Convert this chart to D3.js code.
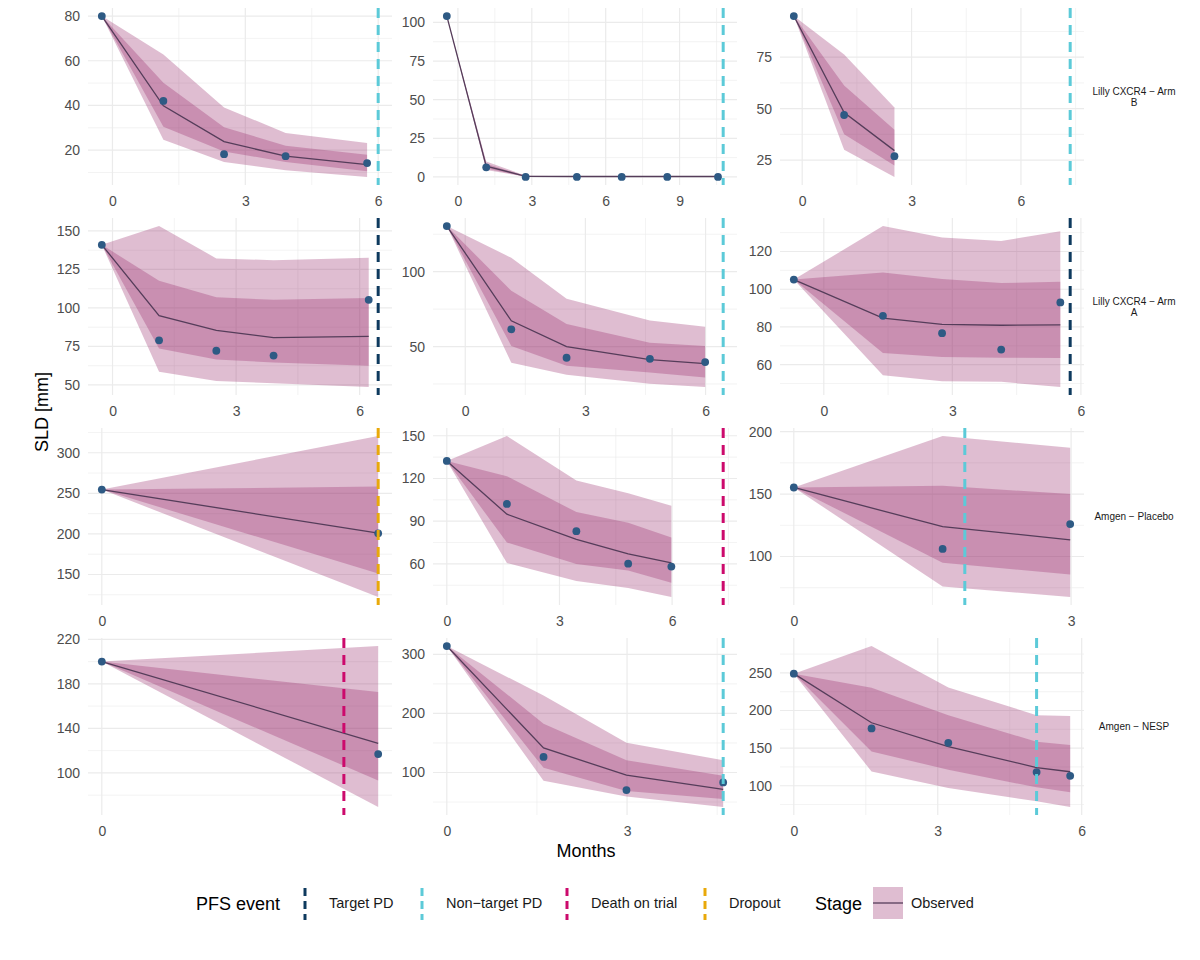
<!DOCTYPE html>
<html>
<head>
<meta charset="utf-8">
<script src="https://cdnjs.cloudflare.com/ajax/libs/d3/7.8.5/d3.min.js"></script>
<style>
body { margin: 0; background: #fff; }
svg text { font-family: "Liberation Sans", Arial, sans-serif; }
</style>
</head>
<body>
<svg id="chart" width="1200" height="960"></svg>
<script>
// Facet rows (strip labels on the right)
var stripLabels = [["Lilly CXCR4 \u2212 Arm", "B"], ["Lilly CXCR4 \u2212 Arm", "A"], ["Amgen \u2212 Placebo"], ["Amgen \u2212 NESP"]];

// One entry per panel, row by row
var times = [
  [-0.24, 1.15, 2.52, 3.91, 5.75],
  [-0.45, 1.15, 2.75, 4.83, 6.65, 8.5, 10.56],
  [-0.23, 1.15, 2.53],
  [-0.26, 1.13, 2.52, 3.91, 6.22],
  [-0.46, 1.15, 2.53, 4.61, 5.99],
  [-0.70, 1.38, 2.76, 4.14, 5.52],
  [0, 1.4],
  [0, 1.6, 3.45, 4.83, 5.98],
  [0, 1.61, 2.99],
  [0, 1.45],
  [0, 1.61, 2.99, 4.6],
  [0, 1.62, 3.22, 5.06, 5.76]
];
var observed = [
  [80, 42, 18.2, 17.3, 14.2],
  [104.1, 6.2, 0, 0, 0, 0, 0],
  [95, 46.9, 26.9],
  [141, 79, 72.2, 69.1, 105.3],
  [130.5, 61.5, 42.5, 41.8, 39.6],
  [105.1, 85.9, 76.7, 68, 93],
  [254.6, 200.7],
  [132.3, 102.1, 83, 60.2, 58.1],
  [155.3, 106.1, 126],
  [200, 116.9],
  [314, 126.4, 70.3, 83.2],
  [249, 176.2, 157.1, 118.1, 113.2]
];
var median = [
  [80, 39.8, 23.8, 17.3, 13.5],
  [104.1, 7, 0.4, 0.3, 0.3, 0.3, 0.3],
  [95, 48.1, 29.6],
  [141, 95, 85.5, 80.8, 81.6],
  [130.5, 67.2, 50, 41.2, 38.6],
  [105.1, 84.7, 81.4, 80.9, 81.1],
  [254.6, 201],
  [132.3, 94.9, 77.3, 67, 60.7],
  [155.3, 123.9, 113.4],
  [200, 126.6],
  [314, 141.5, 95.5, 71.4],
  [249, 183.7, 151.9, 124.2, 118.6]
];
var lower90 = [
  [80, 24.6, 14.7, 11, 8],
  [104.1, 4.5, 0.1, 0, 0, 0, 0],
  [95, 30, 16.8],
  [141, 58.6, 52.6, 51.1, 48.7],
  [130.5, 39.2, 31.2, 25.2, 23],
  [105.1, 54.4, 51.2, 50.9, 48.2],
  [254.6, 122.3],
  [132.3, 60.7, 48, 43.1, 36.8],
  [155.3, 76, 67.6],
  [200, 69.4],
  [314, 86, 59.2, 41.7],
  [249, 119, 97, 79.4, 71.8]
];
var upper90 = [
  [80, 62.8, 39.1, 27.7, 23.2],
  [104.1, 10, 0.8, 0.5, 0.5, 0.5, 0.5],
  [95, 76.3, 50.5],
  [141, 153.2, 132.2, 131, 132.6],
  [130.5, 109.3, 82, 67.4, 63.2],
  [105.1, 133.5, 127.4, 125.6, 130.7],
  [254.6, 320.6],
  [132.3, 149.8, 118.6, 109.6, 100.8],
  [155.3, 196.5, 187.2],
  [200, 214],
  [314, 230.2, 150.4, 120.7],
  [249, 285.7, 230.6, 193.8, 192.6]
];
var lower50 = [
  [80, 30.5, 19.4, 14.7, 10.5],
  [104.1, 5.5, 0.2, 0.1, 0.1, 0.1, 0.1],
  [95, 37.6, 22.4],
  [141, 73.7, 66.6, 64.6, 62.5],
  [130.5, 50.4, 37.1, 32.7, 29.3],
  [105.1, 66.2, 64.1, 63.7, 63.5],
  [254.6, 151.2],
  [132.3, 75.1, 60, 55.3, 46.8],
  [155.3, 95, 85.6],
  [200, 93.2],
  [314, 107.9, 68.8, 55.3],
  [249, 145.5, 121.2, 97.9, 91.3]
];
var upper50 = [
  [80, 50.2, 30.2, 22, 17.9],
  [104.1, 8.5, 0.6, 0.4, 0.4, 0.4, 0.4],
  [95, 61.3, 39.7],
  [141, 117.7, 107, 105.3, 106.4],
  [130.5, 87.2, 65, 52.6, 50.4],
  [105.1, 108.9, 105.4, 103.3, 104],
  [254.6, 258.3],
  [132.3, 121.6, 96.4, 88.9, 78.5],
  [155.3, 156.6, 150],
  [200, 172.6],
  [314, 182.7, 120.7, 94.5],
  [249, 230.2, 193.8, 158.5, 154]
];

// PFS event per panel
var eventTime = [6.0, 10.77, 7.35, 6.45, 6.44, 5.75, 1.4, 7.36, 1.85, 1.27, 4.6, 5.06];
var eventType = [1, 1, 1, 0, 1, 0, 3, 2, 1, 2, 1, 1];
var eventLabels = ["Target PD", "Non\u2212target PD", "Death on trial", "Dropout"];
var eventColors = ["#0e3a5e", "#5ccad8", "#cc0a6c", "#e9a90a"];

// Tick labels
var xTicks = [[0, 3, 6], [0, 3, 6, 9], [0, 3, 6], [0, 3, 6], [0, 3, 6], [0, 3, 6], [0], [0, 3, 6], [0, 3], [0], [0, 3], [0, 3, 6]];
var yTicks = [
  [20, 40, 60, 80], [0, 25, 50, 75, 100], [25, 50, 75],
  [50, 75, 100, 125, 150], [50, 100], [60, 80, 100, 120],
  [150, 200, 250, 300], [60, 90, 120, 150], [100, 150, 200],
  [100, 140, 180, 220], [100, 200, 300], [100, 150, 200, 250]
];

var panelLeft = [88, 433, 780];
var panelTop = [8, 218, 428, 638];
var panelW = 304, panelH = 177;

var bandFill = "#99296c", bandAlpha = 0.31;
var lineColor = "#553d5a";
var pointColor = "#2e5a84";
var gridColor = "#ebebeb";

var svg = d3.select("#chart");

// ggplot style 5% expansion
function expand(ext) {
  var r = ext[1] - ext[0];
  return [ext[0] - r * 0.05, ext[1] + r * 0.05];
}

// midpoints between major breaks, one step past each end
function minorBreaks(major, dom) {
  if (major.length < 2) return [];
  var step = major[1] - major[0];
  var b = major.slice();
  if (dom[0] < b[0]) b.unshift(b[0] - step);
  if (dom[1] > b[b.length - 1]) b.push(b[b.length - 1] + step);
  var out = [];
  for (var k = 0; k < b.length - 1; k++) out.push((b[k] + b[k + 1]) / 2);
  return out.filter(function(v) { return v >= dom[0] && v <= dom[1]; });
}

times.forEach(function(t, i) {
  var col = i % 3, row = Math.floor(i / 3);
  var left = panelLeft[col], top = panelTop[row];

  var rows = t.map(function(d, k) {
    return { t: d, obs: observed[i][k], med: median[i][k],
      lo90: lower90[i][k], hi90: upper90[i][k], lo50: lower50[i][k], hi50: upper50[i][k] };
  });

  var xDom = expand(d3.extent(t.concat([eventTime[i]])));
  var yDom = expand(d3.extent(observed[i].concat(lower90[i], upper90[i], median[i])));
  var x = d3.scaleLinear().domain(xDom).range([left, left + panelW]);
  var y = d3.scaleLinear().domain(yDom).range([top + panelH, top]);

  var g = svg.append("g");

  // grid lines
  var grid = g.append("g");
  minorBreaks(yTicks[i], yDom).forEach(function(v) {
    grid.append("line").attr("x1", left).attr("x2", left + panelW)
      .attr("y1", y(v)).attr("y2", y(v))
      .attr("stroke", gridColor).attr("stroke-width", 0.6);
  });
  minorBreaks(xTicks[i], xDom).forEach(function(v) {
    grid.append("line").attr("y1", top).attr("y2", top + panelH)
      .attr("x1", x(v)).attr("x2", x(v))
      .attr("stroke", gridColor).attr("stroke-width", 0.6);
  });
  yTicks[i].forEach(function(v) {
    grid.append("line").attr("x1", left).attr("x2", left + panelW)
      .attr("y1", y(v)).attr("y2", y(v))
      .attr("stroke", gridColor).attr("stroke-width", 1.2);
  });
  xTicks[i].forEach(function(v) {
    grid.append("line").attr("y1", top).attr("y2", top + panelH)
      .attr("x1", x(v)).attr("x2", x(v))
      .attr("stroke", gridColor).attr("stroke-width", 1.2);
  });

  // prediction bands
  var outer = d3.area().x(function(d) { return x(d.t); })
    .y0(function(d) { return y(d.lo90); }).y1(function(d) { return y(d.hi90); });
  var inner = d3.area().x(function(d) { return x(d.t); })
    .y0(function(d) { return y(d.lo50); }).y1(function(d) { return y(d.hi50); });
  g.append("path").datum(rows).attr("d", outer).attr("fill", bandFill).attr("fill-opacity", bandAlpha);
  g.append("path").datum(rows).attr("d", inner).attr("fill", bandFill).attr("fill-opacity", bandAlpha);

  // median line
  var line = d3.line().x(function(d) { return x(d.t); }).y(function(d) { return y(d.med); });
  g.append("path").datum(rows).attr("d", line)
    .attr("fill", "none").attr("stroke", lineColor).attr("stroke-width", 1.3);

  // observed SLD
  g.selectAll("circle").data(rows).enter().append("circle")
    .attr("cx", function(d) { return x(d.t); })
    .attr("cy", function(d) { return y(d.obs); })
    .attr("r", 3.9)
    .attr("fill", pointColor);

  // PFS event line
  g.append("line")
    .attr("x1", x(eventTime[i])).attr("x2", x(eventTime[i]))
    .attr("y1", top).attr("y2", top + panelH)
    .attr("stroke", eventColors[eventType[i]])
    .attr("stroke-width", 3)
    .attr("stroke-dasharray", "10,7");

  // axes
  var xa = g.append("g").attr("transform", "translate(0," + (top + panelH) + ")")
    .call(d3.axisBottom(x).tickValues(xTicks[i]).tickSize(0).tickPadding(11).tickFormat(d3.format("d")));
  var ya = g.append("g").attr("transform", "translate(" + left + ",0)")
    .call(d3.axisLeft(y).tickValues(yTicks[i]).tickSize(0).tickPadding(8).tickFormat(d3.format("d")));
  [xa, ya].forEach(function(a) {
    a.select(".domain").remove();
    a.attr("font-family", null).attr("font-size", null);
    a.selectAll("text").attr("font-size", 14).attr("fill", "#4d4d4d");
  });
});

// strip labels
stripLabels.forEach(function(lines, r) {
  var cy = panelTop[r] + panelH / 2;
  var t = svg.append("text")
    .attr("x", 1134)
    .attr("y", cy - (lines.length - 1) * 5.5)
    .attr("text-anchor", "middle")
    .attr("font-size", 10)
    .attr("fill", "#1a1a1a");
  lines.forEach(function(s, k) {
    t.append("tspan").attr("x", 1134).attr("dy", k == 0 ? "0.35em" : 11).text(s);
  });
});

// axis titles
svg.append("text")
  .attr("transform", "translate(48,412) rotate(-90)")
  .attr("text-anchor", "middle")
  .attr("font-size", 18)
  .text("SLD [mm]");
svg.append("text")
  .attr("x", 586).attr("y", 857)
  .attr("text-anchor", "middle")
  .attr("font-size", 18)
  .text("Months");

// legend
var legend = svg.append("g");
legend.append("text").attr("x", 196).attr("y", 910).attr("font-size", 18).text("PFS event");
var keyX = [305, 422, 567, 705];
eventLabels.forEach(function(lab, k) {
  legend.append("line")
    .attr("x1", keyX[k]).attr("x2", keyX[k])
    .attr("y1", 888).attr("y2", 920)
    .attr("stroke", eventColors[k])
    .attr("stroke-width", 3)
    .attr("stroke-dasharray", "8,5");
  legend.append("text").attr("x", keyX[k] + 24).attr("y", 908)
    .attr("font-size", 14.5).attr("fill", "#1a1a1a").text(lab);
});
legend.append("text").attr("x", 815).attr("y", 910).attr("font-size", 18).text("Stage");
legend.append("rect").attr("x", 873).attr("y", 887).attr("width", 30).attr("height", 32)
  .attr("fill", bandFill).attr("fill-opacity", bandAlpha);
legend.append("line").attr("x1", 873).attr("x2", 903).attr("y1", 903).attr("y2", 903)
  .attr("stroke", lineColor).attr("stroke-width", 1.3);
legend.append("text").attr("x", 911).attr("y", 908)
  .attr("font-size", 14.5).attr("fill", "#1a1a1a").text("Observed");
</script>
</body>
</html>
